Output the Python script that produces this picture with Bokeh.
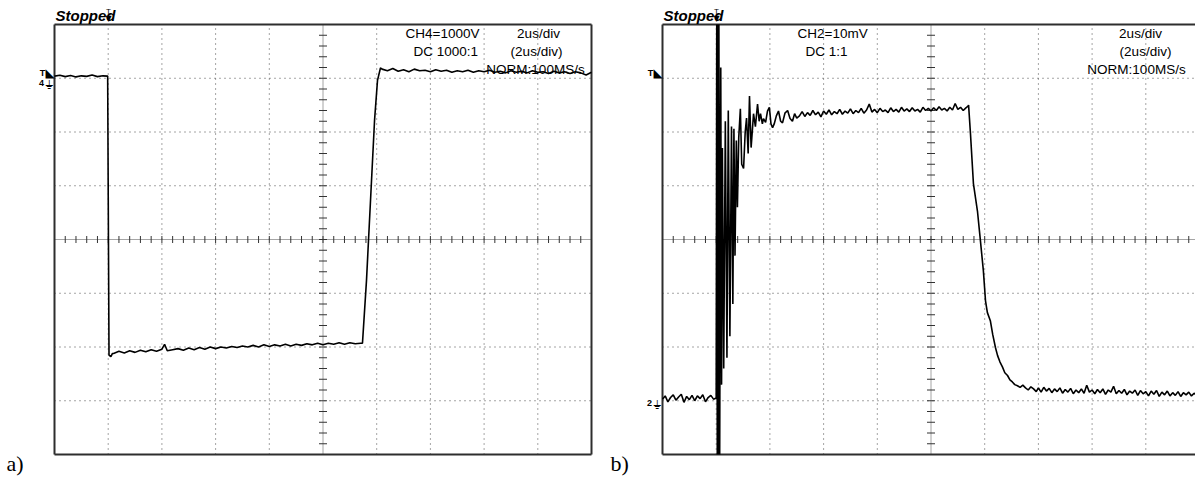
import numpy as np
from bokeh.plotting import figure
from bokeh.models import Label, Range1d
from bokeh.layouts import row
from bokeh.embed import file_html
from bokeh.resources import INLINE

# ---------------- data read from the two oscilloscope screens ----------------
# a) CH4 = 1000 V/div, 2 us/div  (time in us, voltage in V)
a_time_high1 = [0.0, 0.2, 0.4, 0.6, 0.8, 1.0, 1.2, 1.4, 1.6, 1.8, 1.98]
a_volt_high1 = [40, 55, 30, 50, 25, 45, 35, 60, 30, 45, 40]
a_time_fall = [2.03, 2.10, 2.16]
a_volt_fall = [-5150, -5180, -5120]
a_time_low = [2.2, 2.4, 2.6, 2.8, 3.0, 3.2, 3.4, 3.6, 3.8, 4.0, 4.1, 4.2, 4.4, 4.6,
              4.8, 5.0, 5.2, 5.4, 5.6, 5.8, 6.0, 6.2, 6.4, 6.6, 6.8, 7.0, 7.2, 7.4,
              7.6, 7.8, 8.0, 8.2, 8.4, 8.6, 8.8, 9.0, 9.2, 9.4, 9.6, 9.8, 10.0, 10.2,
              10.4, 10.6, 10.8, 11.0, 11.2, 11.4]
a_volt_low = [-5120, -5080, -5110, -5070, -5100, -5060, -5090, -5050, -5080, -5040,
              -4950, -5070, -5050, -5030, -5060, -5020, -5050, -5010, -5040, -5000,
              -5030, -5000, -5020, -4990, -5010, -4980, -5000, -4970, -5000, -4960,
              -4990, -4960, -4980, -4950, -4980, -4950, -4970, -4940, -4960, -4930,
              -4960, -4930, -4950, -4920, -4950, -4920, -4940, -4930]
a_time_rise = [11.47, 11.62, 11.77, 11.92, 12.03, 12.14]
a_volt_rise = [-4930, -3760, -2270, -780, -40, 190]
a_time_high2 = [12.2, 12.4, 12.6, 12.8, 13.0, 13.2, 13.4, 13.6, 13.8, 14.0, 14.2, 14.4,
                14.6, 14.8, 15.0, 15.2, 15.4, 15.6, 15.8, 16.0, 16.2, 16.4, 16.6, 16.8,
                17.0, 17.2, 17.4, 17.6, 17.8, 18.0, 18.2, 18.4, 18.6, 18.8, 19.0, 19.2,
                19.4, 19.6, 19.8, 20.0]
a_volt_high2 = [170, 140, 180, 130, 160, 120, 170, 140, 150, 120, 160, 130,
                150, 110, 140, 120, 150, 110, 140, 120, 150, 110, 130, 100,
                140, 110, 130, 100, 140, 110, 120, 90, 130, 100, 120, 90,
                120, 100, 60, 110]

# b) CH2 = 10 mV/div, 2 us/div  (time in us, signal in mV; screen clips at -10 / 70)
b_time_base = [0.0, 0.1, 0.2, 0.3, 0.4, 0.5, 0.6, 0.7, 0.8, 0.9, 1.0, 1.1, 1.2, 1.3,
               1.4, 1.5, 1.6, 1.7, 1.8, 1.9, 2.0]
b_mv_base = [0.3, 0.9, -0.2, 0.6, 1.1, 0.1, 0.7, 1.2, -0.3, 0.8, 0.2, 1.0, 0.0, 0.9,
             0.4, 1.1, -0.2, 0.6, 1.0, 0.3, 0.5]
b_time_ring = [2.02, 2.04, 2.06, 2.08, 2.10, 2.13, 2.17, 2.20, 2.23, 2.28, 2.34, 2.40,
               2.45, 2.51, 2.57, 2.62, 2.66, 2.70, 2.75, 2.79, 2.84, 2.90, 2.95, 3.02,
               3.08, 3.13, 3.19, 3.24, 3.30, 3.35, 3.39, 3.46, 3.54, 3.60, 3.65, 3.72,
               3.76, 3.84, 3.91, 3.98, 4.04, 4.10, 4.16, 4.24, 4.32, 4.40, 4.47, 4.56,
               4.66, 4.75, 4.84, 4.92, 5.00]
b_mv_ring = [70, -10, 70, -10, 70, -10, 62, 3, 47, 6, 52, 8,
             54, 12, 51, 18, 50.6, 27, 48.4, 36, 49, 54.3, 44, 43.2,
             50, 52.6, 46, 56.7, 47.1, 50.5, 53.4, 51.0, 55.2, 52.0, 53.4, 51.5,
             52.5, 51.8, 53.9, 54.6, 51.5, 50.8, 51.5, 53.0, 53.9, 52.0, 51.7, 53.5,
             54.0, 52.5, 52.0, 53.4, 52.6]
b_time_flat = [5.1, 5.2, 5.3, 5.4, 5.5, 5.6, 5.7, 5.8, 5.9, 6.0, 6.1, 6.2, 6.3, 6.4,
               6.5, 6.6, 6.7, 6.8, 6.9, 7.0, 7.1, 7.2, 7.3, 7.4, 7.5, 7.6, 7.7, 7.8,
               7.9, 8.0, 8.1, 8.2, 8.3, 8.4, 8.5, 8.6, 8.7, 8.8, 8.9, 9.0, 9.1, 9.2,
               9.3, 9.4, 9.5, 9.6, 9.7, 9.8, 9.9, 10.0, 10.1, 10.2, 10.3, 10.4, 10.5,
               10.6, 10.7, 10.8, 10.9, 11.0, 11.1, 11.2, 11.3, 11.38]
b_mv_flat = [53.0, 53.8, 52.9, 53.6, 53.1, 54.0, 53.2, 53.7, 52.8, 53.9, 53.3, 54.1,
             53.2, 53.8, 53.4, 54.2, 53.3, 53.9, 53.5, 54.3, 53.4, 54.0, 53.6, 54.4,
             53.5, 54.1, 55.2, 53.7, 54.2, 53.6, 54.4, 53.8, 54.1, 53.6, 54.5, 53.8,
             54.2, 53.7, 54.6, 53.9, 54.3, 53.8, 54.5, 53.9, 54.2, 53.7, 54.6, 54.0,
             54.4, 53.9, 54.5, 54.0, 54.7, 54.1, 54.4, 53.9, 54.6, 54.1, 55.3, 54.2,
             54.6, 54.0, 54.5, 54.8]
b_time_fall = [11.40, 11.47, 11.58, 11.73, 11.84, 11.95, 12.03, 12.10, 12.21, 12.30,
               12.40, 12.48, 12.57, 12.66, 12.75, 12.85, 12.94, 13.03, 13.12, 13.22,
               13.32, 13.42, 13.52, 13.62, 13.72, 13.82, 13.92, 14.0]
b_mv_fall = [55.0, 49.7, 40.4, 35.3, 29.8, 24.2, 18.6, 16.4, 14.9, 12.3,
             9.9, 8.4, 7.2, 6.3, 5.2, 4.7, 3.9, 3.5, 3.0, 2.8,
             2.5, 2.9, 2.4, 2.0, 2.6, 2.2, 1.7, 2.4]
b_time_tail = [14.1, 14.2, 14.3, 14.4, 14.5, 14.6, 14.7, 14.8, 14.9, 15.0, 15.1, 15.2,
               15.3, 15.4, 15.5, 15.6, 15.7, 15.8, 15.9, 16.0, 16.1, 16.2, 16.3, 16.4,
               16.5, 16.6, 16.7, 16.8, 16.9, 17.0, 17.1, 17.2, 17.3, 17.4, 17.5, 17.6,
               17.7, 17.8, 17.9, 18.0, 18.1, 18.2, 18.3, 18.4, 18.5, 18.6, 18.7, 18.8,
               18.9, 19.0, 19.1, 19.2, 19.3, 19.4, 19.5, 19.6, 19.7, 19.8, 19.9, 20.0]
b_mv_tail = [1.6, 2.5, 1.8, 2.3, 1.5, 2.2, 1.7, 2.4, 1.4, 2.1, 1.6, 2.3,
             1.3, 2.0, 1.5, 2.2, 1.4, 2.9, 1.6, 2.0, 1.3, 2.1, 1.5, 2.2,
             1.2, 2.0, 1.6, 2.7, 1.3, 1.9, 1.4, 2.1, 1.1, 1.8, 1.4, 2.0,
             1.0, 1.9, 1.3, 1.7, 0.9, 1.8, 1.2, 1.9, 0.8, 1.6, 1.1, 1.8,
             0.9, 1.5, 1.0, 1.7, 0.8, 1.5, 1.1, 1.6, 0.9, 1.4, 1.0, 1.3]

a_time = a_time_high1 + a_time_fall + a_time_low + a_time_rise + a_time_high2
a_volt = a_volt_high1 + a_volt_fall + a_volt_low + a_volt_rise + a_volt_high2
b_time = b_time_base + b_time_ring + b_time_flat + b_time_fall + b_time_tail
b_mv = b_mv_base + b_mv_ring + b_mv_flat + b_mv_fall + b_mv_tail

a_readout = ["CH4=1000V", "DC  1000:1"]
b_readout = ["CH2=10mV", "DC  1:1"]
timebase = ["2us/div", "(2us/div)", "NORM:100MS/s"]

# ---------------- screen geometry (page pixels) ----------------
PX_DIV, PY_DIV = 53.7, 53.75      # pixels per division
SCR_TOP = 24                      # screen top edge
H = 476
GRID_C = "#4a4a4a"
BORDER_C = "#2e2e2e"
FONT = "Liberation Sans"


def make_panel(canvas_x0, canvas_w, scr_left, vdiv, vtop, show_right):
    """Figure whose frame is the whole canvas; the scope screen sits inside it."""
    us_per_px = 2.0 / PX_DIV
    v_per_px = vdiv / PY_DIV
    x0 = (canvas_x0 - scr_left) * us_per_px
    x1 = (canvas_x0 + canvas_w - scr_left) * us_per_px
    y1 = vtop + SCR_TOP * v_per_px
    y0 = vtop - (H - SCR_TOP) * v_per_px
    p = figure(width=canvas_w, height=H, title=None, x_range=Range1d(x0, x1),
               y_range=Range1d(y0, y1), x_axis_location=None, y_axis_location=None,
               toolbar_location=None, output_backend="svg",
               min_border=0, outline_line_color=None,
               background_fill_color="white", border_fill_color="white")
    p.xgrid.visible = False
    p.ygrid.visible = False
    xmax = min(20.0, x1)
    ylo = vtop - 8 * vdiv
    yc = vtop - 4 * vdiv
    # dotted graticule
    xt = [t for t in range(2, 20, 2) if t != 10 and t < xmax]
    p.segment(x0=xt, y0=[ylo] * len(xt), x1=xt, y1=[vtop] * len(xt),
              line_color=GRID_C, line_dash="1 4", line_width=1)
    yt = [vtop - k * vdiv for k in range(1, 8) if k != 4]
    p.segment(x0=[0] * len(yt), y0=yt, x1=[xmax] * len(yt), y1=yt,
              line_color=GRID_C, line_dash="1 4", line_width=1)
    # centre cross with minor ticks
    p.segment(x0=[10, 0], y0=[ylo, yc], x1=[10, xmax], y1=[vtop, yc],
              line_color=GRID_C, line_dash="1 1", line_width=1)
    tx = np.arange(0.4, xmax, 0.4)
    p.scatter(tx, np.full(len(tx), yc), marker="dash", size=7, angle=np.pi / 2,
              line_color="#333", line_width=1)
    ty = ylo + np.arange(1, 40) * vdiv / 5
    p.scatter(np.full(len(ty), 10.0), ty, marker="dash", size=8,
              line_color="#333", line_width=1)
    # screen border
    bx0 = [0, 0, 0]
    by0 = [vtop, ylo, ylo]
    bx1 = [xmax, xmax, 0]
    by1 = [vtop, ylo, vtop]
    if show_right:
        bx0.append(xmax); by0.append(ylo); bx1.append(xmax); by1.append(vtop)
    p.segment(x0=bx0, y0=by0, x1=bx1, y1=by1, line_color=BORDER_C, line_width=2)

    def to_data(px, py):
        return ((px - scr_left) * us_per_px, vtop - (py - SCR_TOP) * v_per_px)
    return p, to_data


def lab(p, xy, text, size="13.5px", align="left", style="normal", font=FONT):
    # y is the vertical centre of the text
    p.add_layout(Label(x=xy[0], y=xy[1], text=text, text_font=font, text_font_size=size,
                       text_font_style=style, text_align=align,
                       text_baseline="middle", text_color="black"))


def markers(p, d, scr_left, trig_px, gnd_py, ch, trig_py):
    lab(p, d(scr_left + 1, 15), "Stopped", "15px", style="bold italic")
    lab(p, d(trig_px, 11), "T", "8px", "center")
    lab(p, d(trig_px, 18), "▼", "8px", "center", font="DejaVu Sans")
    lab(p, d(scr_left - 12, trig_py), "T", "9px", "center", style="bold")
    lab(p, d(scr_left - 4.5, trig_py), "◣", "12px", "center", font="DejaVu Sans")
    lab(p, d(scr_left - 13, gnd_py + 3), ch, "9px", "center", style="bold")
    lab(p, d(scr_left - 5, gnd_py + 5), "⏚", "12px", "center", font="DejaVu Sans")


# ---------------- panel a ----------------
pa, ad = make_panel(0, 600, 54, 1000, 1000, True)
pa.line(a_time, a_volt, line_color="black", line_width=1.6)
markers(pa, ad, 54, 108, 79, "4", 72)
lab(pa, ad(405, 33), a_readout[0])
lab(pa, ad(413, 51), a_readout[1])
lab(pa, ad(538, 33), timebase[0], align="center")
lab(pa, ad(536, 51), timebase[1], align="center")
lab(pa, ad(535, 68.5), timebase[2], align="center")
lab(pa, ad(6, 463), "a)", "22px", font="Liberation Serif")

# ---------------- panel b ----------------
pb, bd = make_panel(600, 595, 662, 10, 70, False)
pb.line(b_time, b_mv, line_color="black", line_width=1.6)
markers(pb, bd, 662, 716, 399, "2", 72)
lab(pb, bd(797, 33), b_readout[0])
lab(pb, bd(805, 51), b_readout[1])
lab(pb, bd(1140, 33), timebase[0], align="center")
lab(pb, bd(1145, 51), timebase[1], align="center")
lab(pb, bd(1136, 68.5), timebase[2], align="center")
lab(pb, bd(610, 463), "b)", "22px", font="Liberation Serif")

layout = row(pa, pb)
open("out.html", "w").write(file_html(layout, INLINE))
